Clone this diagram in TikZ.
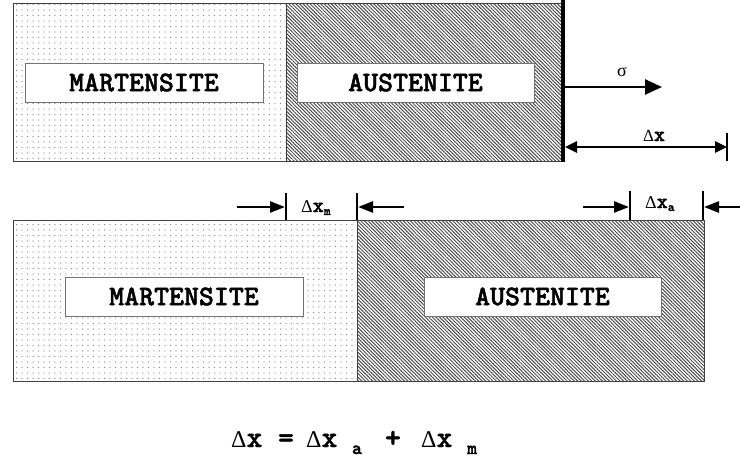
\documentclass[tikz,border=0pt]{standalone}
\usepackage{fontspec}
\newfontfamily\cour{lmmonolt10-bold.otf}[FakeBold=1.6]
\newfontfamily\symf{Liberation Serif}
\usetikzlibrary{patterns.meta,arrows.meta}
\begin{document}
\begin{tikzpicture}[x=1pt,y=-1pt,
  mart/.style={pattern={Dots[distance=5.5pt,radius=0.6pt]},pattern color=black!50},
  aust/.style={pattern={Lines[angle=-45,distance=2.5pt,line width=1pt]},pattern color=black!70},
  outline/.style={draw=black!75,line width=1pt},
  lbox/.style={draw=black!55,fill=white,line width=1pt,inner sep=0pt,minimum height=39pt,minimum width=238pt,
     font=\cour\fontsize{28.5}{28.5}\selectfont},
  arr/.style={line width=2.6pt,-{Triangle[length=15pt,width=11pt]}},
  tick/.style={line width=2pt},
  dimfont/.style={font=\fontsize{17}{17}\selectfont,inner sep=0pt}
]
\useasboundingbox (0,0) rectangle (740,461);
\fill[white] (0,0) rectangle (740,461);
% ---- top bar
\fill[mart] (13,3) rectangle (286,161);
\fill[aust] (286,3) rectangle (563,161);
\draw[outline] (13,3) rectangle (563,161);
\draw[outline] (286,3) -- (286,161);
\node[lbox] (m1) at (144,82.5) {MARTENSITE};
\node[lbox,minimum width=237pt] (a1) at (415.5,82.5) {AUSTENITE};
\coordinate (wt) at (563,0);
\coordinate (wb) at (563,162);
\draw[line width=4pt] (wt) -- (wb);
% sigma arrow
\coordinate (s0) at (563,87);
\coordinate (s1) at (662,87);
\draw[line width=2.6pt,-{Triangle[length=17pt,width=15pt]}] (s0) -- (s1);
\node[font=\symf\fontsize{18}{18}\selectfont,inner sep=0pt] (sig) at (622,72) {σ};
% delta x
\coordinate (d0) at (565,147);
\coordinate (d1) at (727,147);
\draw[line width=2.6pt,{Triangle[length=12pt,width=11pt]}-{Triangle[length=12pt,width=11pt]}] (d0) -- (d1);
\coordinate (t0) at (727,133);
\coordinate (t1) at (727,161);
\draw[tick] (t0) -- (t1);
\node[dimfont,anchor=base] (dx) at (654,141) {{\symf Δ}{\cour\fontsize{21}{21}\selectfont x}};
% ---- bottom bar
\fill[mart] (13,220) rectangle (357,381);
\fill[aust] (357,220) rectangle (704,381);
\draw[outline] (13,220) rectangle (704,381);
\draw[outline] (357,220) -- (357,381);
\node[lbox] (m2) at (184,296.5) {MARTENSITE};
\node[lbox,minimum width=237pt] (a2) at (542.5,296.5) {AUSTENITE};
% delta x_m
\coordinate (mt0) at (286,193); \coordinate (mt1) at (286,220);
\coordinate (mt2) at (357,193); \coordinate (mt3) at (357,220);
\draw[tick] (mt0) -- (mt1);
\draw[tick] (mt2) -- (mt3);
\coordinate (ma0) at (237,207); \coordinate (ma1) at (285,207);
\coordinate (mb0) at (404,207); \coordinate (mb1) at (358,207);
\draw[arr] (ma0) -- (ma1);
\draw[arr] (mb0) -- (mb1);
\node[dimfont,anchor=base west] (dxm) at (301,212) {{\symf\fontsize{18}{18}\selectfont Δ}{\cour\fontsize{21}{21}\selectfont x}\raisebox{-3pt}{\cour\fontsize{13}{13}\selectfont m}};
% delta x_a
\coordinate (at0) at (630,191); \coordinate (at1) at (630,220);
\coordinate (at2) at (703,191); \coordinate (at3) at (703,220);
\draw[tick] (at0) -- (at1);
\draw[tick] (at2) -- (at3);
\coordinate (aa0) at (583,207); \coordinate (aa1) at (629,207);
\coordinate (ab0) at (741,207); \coordinate (ab1) at (704,207);
\draw[arr] (aa0) -- (aa1);
\draw[arr] (ab0) -- (ab1);
\node[dimfont,anchor=base west] (dxa) at (645,208) {{\symf\fontsize{18}{18}\selectfont Δ}{\cour\fontsize{21}{21}\selectfont x}\raisebox{-3pt}{\cour\fontsize{13}{13}\selectfont a}};
% ---- equation
\tikzset{eqf/.style={inner sep=0pt,anchor=base west,font=\fontsize{24}{24}\selectfont},
         subf/.style={inner sep=0pt,anchor=base,font=\cour\fontsize{19}{19}\selectfont}}
\node[eqf] (e1) at (231,447) {{\symf Δ}{\cour\fontsize{30}{30}\selectfont x}};
\node[eqf,anchor=base] (e2) at (286,447) {\cour\fontsize{30}{30}\selectfont =};
\node[eqf] (e3) at (306,447) {{\symf Δ}{\cour\fontsize{30}{30}\selectfont x}};
\node[subf] (e4) at (357,454) {a};
\node[eqf,anchor=base] (e5) at (393,447) {\cour\fontsize{30}{30}\selectfont +};
\node[eqf] (e6) at (421,447) {{\symf Δ}{\cour\fontsize{30}{30}\selectfont x}};
\node[subf] (e7) at (472,454) {m};
\end{tikzpicture}
\end{document}
